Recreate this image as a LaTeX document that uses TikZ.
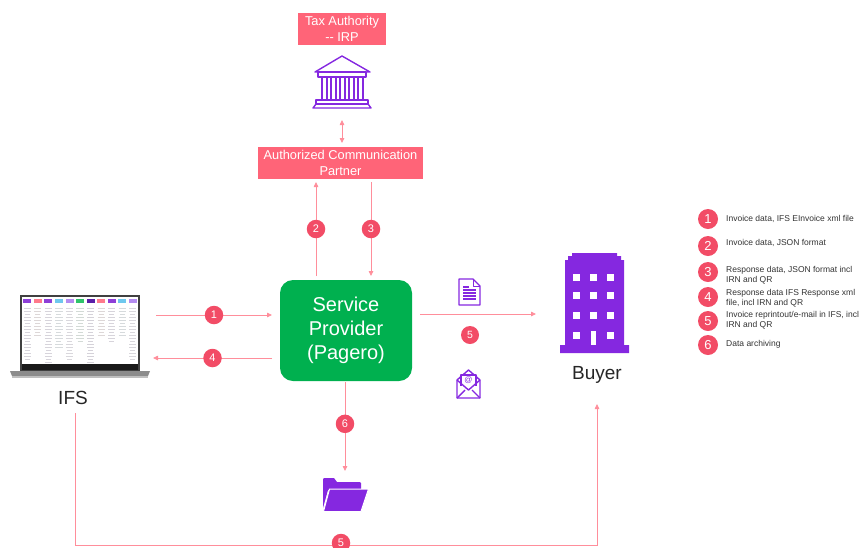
\documentclass[tikz,border=0pt]{standalone}
\usepackage{fontspec}
\setmainfont{Liberation Sans}
\usetikzlibrary{arrows.meta}
\definecolor{boxpink}{HTML}{FF6478}
\definecolor{linkpink}{HTML}{FF8E9B}
\definecolor{badge}{HTML}{F24C66}
\definecolor{spgreen}{HTML}{00B04F}
\definecolor{iconpurple}{HTML}{8528E0}
\tikzset{
  pinkbox/.style={fill=boxpink, text=white, font=\fontsize{12.8}{15.5}\selectfont, align=center, inner sep=0pt},
  arr/.style={draw=linkpink, line width=0.8pt, -{Triangle[length=5pt,width=4.5pt]}},
  darr/.style={draw=linkpink, line width=0.8pt, {Triangle[length=5pt,width=4.5pt]}-{Triangle[length=5pt,width=4.5pt]}},
  link/.style={draw=linkpink, line width=0.8pt},
  badgenode/.style={circle, fill=badge, text=white, inner sep=0pt, minimum size=18.5pt, font=\fontsize{11}{11}\selectfont},
  smallbadge/.style={badgenode, minimum size=18pt, font=\fontsize{10.5}{10.5}\selectfont},
  legbadge/.style={badgenode, minimum size=20pt, font=\fontsize{13}{13}\selectfont},
  legtext/.style={anchor=west, inner sep=0pt, align=left, text=black!80, font=\fontsize{8.5}{10}\selectfont},
  bigtext/.style={font=\fontsize{19}{23}\selectfont, text=black!85},
  iconline/.style={draw=iconpurple, line width=1.4pt, line join=round},
}
\begin{document}
\begin{tikzpicture}[x=1pt, y=-1pt]
\useasboundingbox (0,0) rectangle (862,547);

% ---------- boxes ----------
\node[pinkbox, minimum width=88pt, minimum height=32pt] (tax) at (342,29) {Tax Authority\\-{}- IRP};
\node[pinkbox, minimum width=165pt, minimum height=32pt] (acp) at (340.5,163) {Authorized Communication\\Partner};
\node[rectangle, rounded corners=13pt, fill=spgreen, text=white, minimum width=132pt, minimum height=101pt,
      align=center, font=\fontsize{20}{24}\selectfont] (sp) at (346,330.5) {Service\\Provider\\(Pagero)};

% ---------- government building ----------
\begin{scope}
  \draw[iconline] (342,56) -- (370,72) -- (315,72) -- cycle;
  \draw[iconline] (318,72) rectangle (366,77);
  \foreach \cx in {322,331,340,349,358} {
    \draw[iconline] (\cx,77) rectangle ++(5,23);
  }
  \draw[iconline] (316,100) rectangle (368,104);
  \draw[iconline] (316,104) -- (368,104) -- (371,108) -- (313,108) -- cycle;
\end{scope}
\coordinate (bank) at (342,116);

% ---------- laptop ----------
\fill[black!75] (20,295) rectangle (140,371);
\fill[white] (22,297) rectangle (138,364);
\fill[black!90] (22,364) rectangle (138,370);
\fill[black!45] (10,371) -- (150,371) -- (148,376) -- (12,376) -- cycle;
\fill[black!25] (12,376) rectangle (148,377.5);
\foreach \c/\n [count=\i from 0] in {8E3FD8/18, FF7A8C/10, 8E3FD8/19, 6EC8EE/14, B48CF0/18, 2FC46B/12, 5A1FA8/19, FF7A8C/10, 8E3FD8/12, 6EC8EE/10, B48CF0/18} {
  \definecolor{pillc}{HTML}{\c}
  \pgfmathsetmacro{\px}{27.3+\i*10.55}
  \fill[pillc] (\px-4,299.3) rectangle (\px+4,302.6);
  \foreach \k in {1,...,\n} {
    \pgfmathsetmacro{\py}{305+\k*3}
    \pgfmathsetmacro{\w}{mod(\k,3)==0 ? 2.5 : 3.6}
    \draw[line width=0.7pt, draw=pillc!25!black!18] (\px-\w,\py) -- (\px+\w,\py);
  }
}
\node[bigtext] (ifs) at (73,398) {IFS};

% ---------- buyer building ----------
\fill[iconpurple] (572,253) -- (617,253) -- (617,256) -- (621,256) -- (621,260) -- (624,260) -- (624,345)
  -- (629,345) -- (629,353) -- (560,353) -- (560,345) -- (565,345) -- (565,260) -- (568,260)
  -- (568,256) -- (572,256) -- cycle;
\foreach \wy in {277,295,315,335} {
  \foreach \wx in {576,610} { \fill[white] (\wx-3.5,\wy-3.5) rectangle ++(7,7); }
}
\foreach \wy in {277,295,315} { \fill[white] (593-3.5,\wy-3.5) rectangle ++(7,7); }
\fill[white] (590.5,331) rectangle (595.5,345);
\node[bigtext] (buyer) at (597,375) {Buyer};

% ---------- document icon ----------
\draw[iconline] (459,279) -- (473,279) -- (480,286) -- (480,305) -- (459,305) -- cycle;
\draw[iconline, line width=1pt] (473,279) -- (473,286) -- (480,286);
\foreach \ly in {290,293,296,299} { \draw[draw=iconpurple, line width=1.2pt] (463,\ly) -- (476,\ly); }
\draw[draw=iconpurple, line width=1.2pt] (463,287) -- (469,287);
\coordinate (docicon) at (470,292);

% ---------- e-mail icon ----------
\draw[iconline] (457,380) -- (468.5,370) -- (480,380) -- (480,398) -- (457,398) -- cycle;
\draw[iconline, fill=white, line width=1.1pt] (461,386) -- (461,375) -- (476,375) -- (476,386);
\node[text=iconpurple, inner sep=0pt, font=\fontsize{8}{8}\selectfont] (at) at (468.5,380) {@};
\draw[iconline] (457,380) -- (468.5,390) -- (480,380);
\draw[iconline] (457,398) -- (465,390);
\draw[iconline] (480,398) -- (472,390);

% ---------- folder icon ----------
\fill[iconpurple] (323,479) -- (324,478) -- (334,478) -- (337,482) -- (360,482) -- (361,483) -- (361,490)
  -- (328,490) -- (323,508) -- cycle;
\filldraw[fill=iconpurple, draw=white, line width=1pt] (329.5,489) -- (368.5,489) -- (361,511.5) -- (323.5,511.5) -- cycle;
\coordinate (folder) at (345,475);

% ---------- connectors ----------
\coordinate (a1s) at (156,315);   \coordinate (a1e) at (272,315);
\coordinate (a4s) at (272,358);   \coordinate (a4e) at (153,358);
\coordinate (a2s) at (316,276);   \coordinate (a2e) at (316,182);
\coordinate (a3s) at (371,182);   \coordinate (a3e) at (371,276);
\coordinate (a5s) at (420,314);   \coordinate (a5e) at (536,314);
\coordinate (a6s) at (345,382);   \coordinate (a6e) at (345,471);
\coordinate (b5s) at (75,413);    \coordinate (b5e) at (597,404);
\coordinate (bk1) at (75,545);    \coordinate (bk2) at (597,545);

\draw[darr] (342,120) -- (342,143);
\draw[arr] (a1s) -- node[badgenode] (n1) {1} (a1e);
\draw[arr] (a4s) -- node[badgenode] (n4) {4} (a4e);
\draw[arr] (a2s) -- node[badgenode, pos=0.5] (n2) {2} (a2e);
\draw[arr] (a3s) -- node[badgenode, pos=0.5] (n3) {3} (a3e);
\draw[arr] (a5s) -- (a5e);
\node[smallbadge] (n5a) at (470,335) {5};
\draw[arr] (a6s) -- node[badgenode, pos=0.47] (n6) {6} (a6e);
\draw[arr] (b5s) -- (bk1) -- (bk2) -- (b5e);
\node[badgenode] (n5b) at (341,543) {5};

% ---------- legend ----------
\node[legbadge] (l1) at (708,219) {1};
\node[legbadge] (l2) at (708,246) {2};
\node[legbadge] (l3) at (708,272) {3};
\node[legbadge] (l4) at (708,297) {4};
\node[legbadge] (l5) at (708,321) {5};
\node[legbadge] (l6) at (708,345) {6};
\node[legtext] (t1) at (726,219) {Invoice data, IFS EInvoice xml file};
\node[legtext] (t2) at (726,243) {Invoice data, JSON format};
\node[legtext] (t3) at (726,275) {Response data, JSON format incl\\IRN and QR};
\node[legtext] (t4) at (726,298) {Response data IFS Response  xml\\file, incl IRN and QR};
\node[legtext] (t5) at (726,320) {Invoice reprintout/e-mail in IFS, incl\\IRN and QR};
\node[legtext] (t6) at (726,344) {Data archiving};
\end{tikzpicture}
\end{document}
